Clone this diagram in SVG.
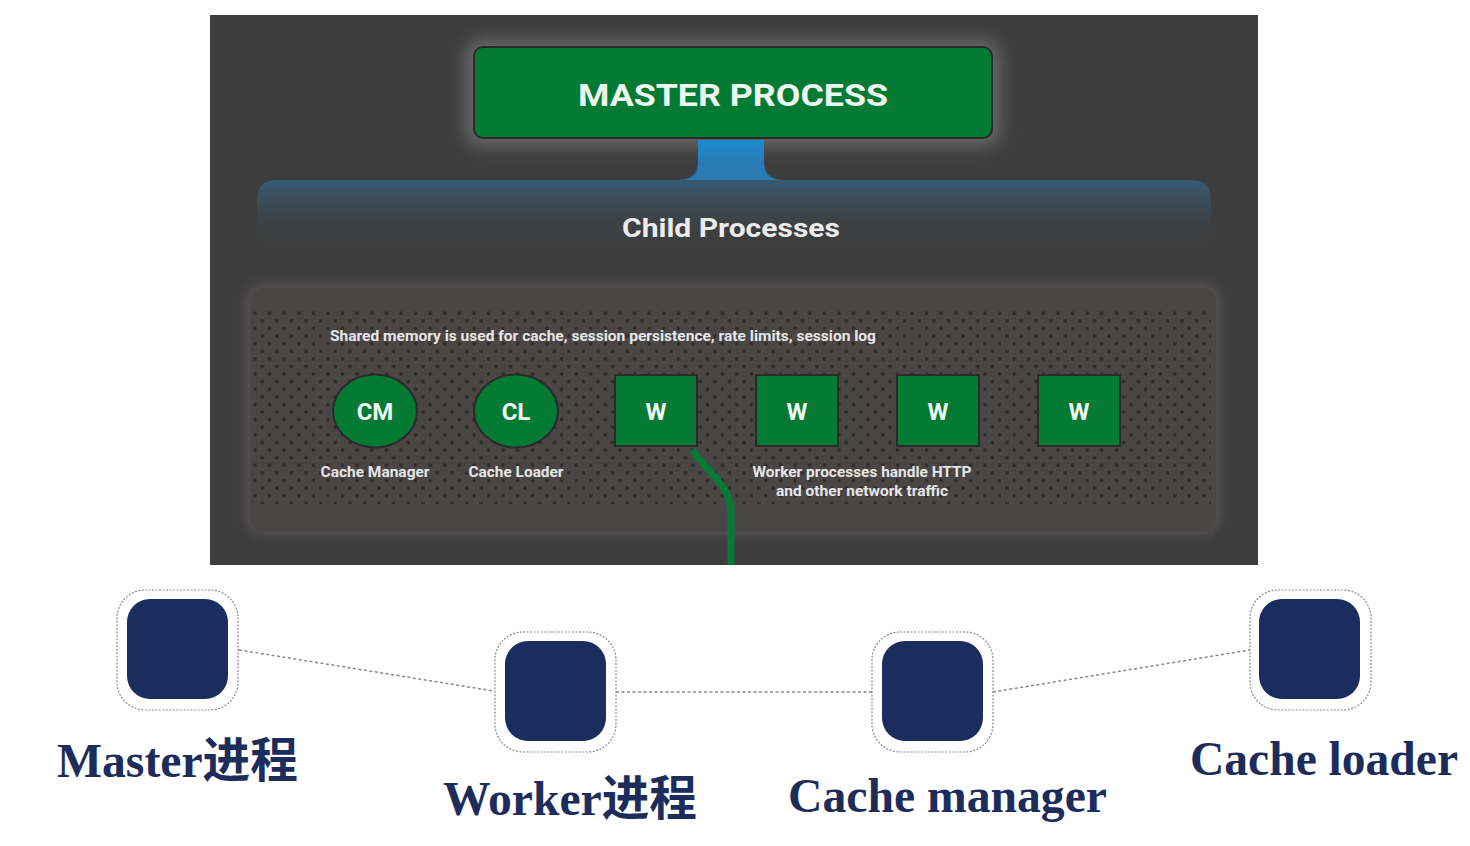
<svg xmlns="http://www.w3.org/2000/svg" width="1470" height="846" viewBox="0 0 1470 846">
  <defs>
    <style>
      .slide { font-family: Roboto, "Liberation Sans", sans-serif; font-weight: bold; }
      .lbl { font-family: Roboto, "Liberation Sans", sans-serif; font-weight: bold; font-size: 14px; fill: #e6e6e6; }
      .big { font-family: "Liberation Serif", "Noto Sans CJK SC", serif; font-weight: bold; font-size: 48px; fill: #1c2d5c; }
      .outer { fill: #ffffff; stroke: #8a8a8a; stroke-width: 1.2; stroke-dasharray: 2 1.5; }
      .inner { fill: #1b2d5e; }
      .conn { stroke: #8a8a8a; stroke-width: 1.5; stroke-dasharray: 3 2.5; fill: none; }
      .gbox { fill: #047a34; stroke: #2a2a2a; stroke-width: 2; }
      .wtext { fill: #f0f7f0; font-size: 24px; text-anchor: middle; }
    </style>
    <filter id="glow" x="-20%" y="-40%" width="140%" height="180%">
      <feGaussianBlur stdDeviation="9"/>
    </filter>
    <filter id="soft" x="-10%" y="-20%" width="120%" height="140%">
      <feGaussianBlur stdDeviation="6"/>
    </filter>
    <linearGradient id="bandGrad" x1="0" y1="0" x2="0" y2="1">
      <stop offset="0" stop-color="#2a73a3"/>
      <stop offset="0.45" stop-color="#3a5466"/>
      <stop offset="1" stop-color="#3d3d3d" stop-opacity="0"/>
    </linearGradient>
    <linearGradient id="stemGrad" x1="0" y1="0" x2="0" y2="1">
      <stop offset="0" stop-color="#1f8ad0"/>
      <stop offset="1" stop-color="#2a78ad"/>
    </linearGradient>
    <pattern id="dots" x="251.5" y="309.5" width="14.6" height="15.2" patternUnits="userSpaceOnUse">
      <circle cx="3.5" cy="3.8" r="1.9" fill="#2e2b2b"/>
      <circle cx="10.8" cy="11.4" r="1.9" fill="#2e2b2b"/>
    </pattern>
  </defs>

  <rect x="0" y="0" width="1470" height="846" fill="#ffffff"/>

  <!-- dark slide -->
  <g id="slide">
    <rect x="210" y="15" width="1048" height="550" fill="#3d3d3d"/>
  </g>

  <!-- master process -->
  <g id="master-process">
    <rect x="465" y="40" width="535" height="106" rx="16" fill="#6a6a6a" filter="url(#glow)"/>
    <rect x="474" y="47" width="518" height="91" rx="9" class="gbox"/>
    <text x="733" y="106" class="slide" font-size="31" fill="#eef7ee" text-anchor="middle" textLength="310" lengthAdjust="spacingAndGlyphs">MASTER PROCESS</text>
  </g>

  <!-- child processes band -->
  <g id="child-processes">
    <path d="M257 250 L257 200 Q257 180 277 180 L676 180 Q698 180 698 160 L698 140 L764 140 L764 160 Q764 180 786 180 L1191 180 Q1211 180 1211 200 L1211 250 Z" fill="url(#bandGrad)"/>
    <rect x="698" y="140" width="66" height="30" fill="url(#stemGrad)"/>
    <path d="M698 165 Q698 180 680 180 L782 180 Q764 180 764 165 Z" fill="#2a7db4"/>
    <text x="731" y="237" class="slide" font-size="26" fill="#ececec" text-anchor="middle" textLength="218" lengthAdjust="spacingAndGlyphs">Child Processes</text>
  </g>

  <!-- shared memory panel -->
  <g id="shared-memory">
    <rect x="246" y="284" width="974" height="250" rx="18" fill="#5a5555" filter="url(#soft)"/>
    <rect x="250" y="288" width="966" height="244" rx="14" fill="#4b4646"/>
    <rect x="253" y="311" width="958" height="193" fill="url(#dots)"/>
    <text x="330" y="341" class="lbl" textLength="546" lengthAdjust="spacingAndGlyphs">Shared memory is used for cache, session persistence, rate limits, session log</text>
  </g>

  <!-- connectors -->
  <g id="connectors">
    <path d="M692 450 L719 482 Q731 496 731 512 L731 565" stroke="#047a34" stroke-width="7" fill="none"/>
    <line x1="239" y1="650" x2="494" y2="691" class="conn"/>
    <line x1="616" y1="692" x2="872" y2="692" class="conn"/>
    <line x1="993" y1="692" x2="1250" y2="650" class="conn"/>
  </g>

  <g id="cm">
    <ellipse cx="375" cy="411" rx="42" ry="36.5" class="gbox"/>
    <text x="375" y="420" class="slide wtext" font-size="25">CM</text>
    <text x="375" y="477" class="lbl" text-anchor="middle" textLength="109" lengthAdjust="spacingAndGlyphs">Cache Manager</text>
  </g>
  <g id="cl">
    <ellipse cx="516" cy="411" rx="42" ry="36.5" class="gbox"/>
    <text x="516" y="420" class="slide wtext" font-size="25">CL</text>
    <text x="516" y="477" class="lbl" text-anchor="middle" textLength="95" lengthAdjust="spacingAndGlyphs">Cache Loader</text>
  </g>
  <g id="w1">
    <rect x="615" y="375" width="82" height="71" class="gbox"/>
    <text x="656" y="420" class="slide wtext">W</text>
  </g>
  <g id="w2">
    <rect x="756" y="375" width="82" height="71" class="gbox"/>
    <text x="797" y="420" class="slide wtext">W</text>
  </g>
  <g id="w3">
    <rect x="897" y="375" width="82" height="71" class="gbox"/>
    <text x="938" y="420" class="slide wtext">W</text>
  </g>
  <g id="w4">
    <rect x="1038" y="375" width="82" height="71" class="gbox"/>
    <text x="1079" y="420" class="slide wtext">W</text>
  </g>
  <g id="worker-note">
    <text x="862" y="477" class="lbl" text-anchor="middle" textLength="219" lengthAdjust="spacingAndGlyphs">Worker processes handle HTTP</text>
    <text x="862" y="496" class="lbl" text-anchor="middle" textLength="172" lengthAdjust="spacingAndGlyphs">and other network traffic</text>
  </g>

  <!-- bottom nodes -->
  <g id="node-master">
    <rect x="117" y="590" width="121" height="120" rx="28" class="outer"/>
    <rect x="127" y="599" width="101" height="100" rx="23" class="inner"/>
    <text x="57" y="777" class="big" textLength="241" lengthAdjust="spacingAndGlyphs">Master进程</text>
  </g>
  <g id="node-worker">
    <rect x="495" y="632" width="121" height="120" rx="28" class="outer"/>
    <rect x="505" y="641" width="101" height="100" rx="23" class="inner"/>
    <text x="443" y="815" class="big" textLength="254" lengthAdjust="spacingAndGlyphs">Worker进程</text>
  </g>
  <g id="node-cache-manager">
    <rect x="872" y="632" width="121" height="120" rx="28" class="outer"/>
    <rect x="882" y="641" width="101" height="100" rx="23" class="inner"/>
    <text x="788" y="812" class="big" textLength="319" lengthAdjust="spacingAndGlyphs">Cache manager</text>
  </g>
  <g id="node-cache-loader">
    <rect x="1250" y="590" width="121" height="120" rx="28" class="outer"/>
    <rect x="1259" y="599" width="101" height="100" rx="23" class="inner"/>
    <text x="1190" y="775" class="big" textLength="268" lengthAdjust="spacingAndGlyphs">Cache loader</text>
  </g>
</svg>
